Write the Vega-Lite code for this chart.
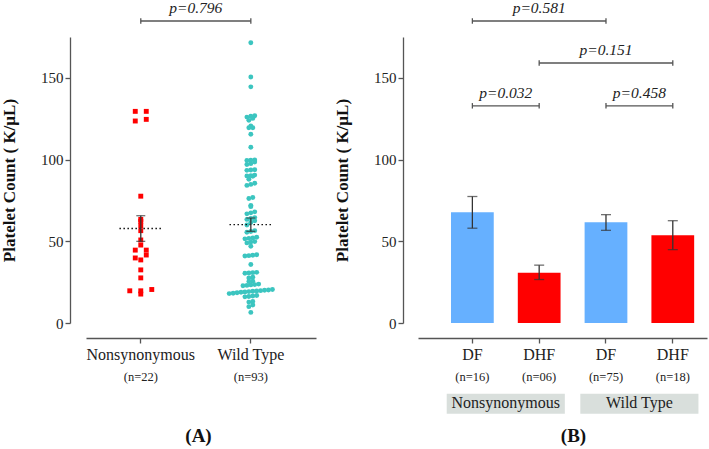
{
  "$schema": "https://vega.github.io/schema/vega-lite/v6.json",
  "padding": {"left": 0, "top": 1, "right": 1, "bottom": 2},
  "spacing": 17,
  "resolve": {"scale": {"color": "independent", "shape": "independent", "xOffset": "independent"}},
  "config": {
    "font": "Liberation Serif",
    "view": {"stroke": null},
    "axis": {"domainColor": "#555", "tickColor": "#555", "domainWidth": 1.3, "tickWidth": 1.3, "labelColor": "#222", "titleColor": "#111", "grid": false, "labelFont": "Liberation Serif", "titleFont": "Liberation Serif"}
  },
  "datasets": {
    "pts": [
      {"group": "Nonsynonymous", "value": 129.5}, {"group": "Nonsynonymous", "value": 129.5}, {"group": "Nonsynonymous", "value": 124.6}, {"group": "Nonsynonymous", "value": 123.6},
      {"group": "Nonsynonymous", "value": 77.6}, {"group": "Nonsynonymous", "value": 63.4}, {"group": "Nonsynonymous", "value": 62.2}, {"group": "Nonsynonymous", "value": 59.6},
      {"group": "Nonsynonymous", "value": 56.5}, {"group": "Nonsynonymous", "value": 50.8}, {"group": "Nonsynonymous", "value": 47.7}, {"group": "Nonsynonymous", "value": 44.6},
      {"group": "Nonsynonymous", "value": 44.6}, {"group": "Nonsynonymous", "value": 41.6}, {"group": "Nonsynonymous", "value": 39.8}, {"group": "Nonsynonymous", "value": 38.6},
      {"group": "Nonsynonymous", "value": 32.5}, {"group": "Nonsynonymous", "value": 27.6}, {"group": "Nonsynonymous", "value": 20.5}, {"group": "Nonsynonymous", "value": 19.7},
      {"group": "Nonsynonymous", "value": 19.7}, {"group": "Nonsynonymous", "value": 17.7},
      {"group": "Wild Type", "value": 171.5}, {"group": "Wild Type", "value": 150.5}, {"group": "Wild Type", "value": 144.5},
      {"group": "Wild Type", "value": 126.8}, {"group": "Wild Type", "value": 126.5}, {"group": "Wild Type", "value": 126}, {"group": "Wild Type", "value": 125.2}, {"group": "Wild Type", "value": 124},
      {"group": "Wild Type", "value": 120.5}, {"group": "Wild Type", "value": 119.5}, {"group": "Wild Type", "value": 119.5},
      {"group": "Wild Type", "value": 115.5}, {"group": "Wild Type", "value": 107.5},
      {"group": "Wild Type", "value": 99.8}, {"group": "Wild Type", "value": 99.6}, {"group": "Wild Type", "value": 99.4}, {"group": "Wild Type", "value": 98.5},
      {"group": "Wild Type", "value": 97.5}, {"group": "Wild Type", "value": 97},
      {"group": "Wild Type", "value": 93.8}, {"group": "Wild Type", "value": 93.6}, {"group": "Wild Type", "value": 93.4},
      {"group": "Wild Type", "value": 90.5}, {"group": "Wild Type", "value": 90.2}, {"group": "Wild Type", "value": 90}, {"group": "Wild Type", "value": 89.8}, {"group": "Wild Type", "value": 88},
      {"group": "Wild Type", "value": 85.5}, {"group": "Wild Type", "value": 84.8}, {"group": "Wild Type", "value": 84.2},
      {"group": "Wild Type", "value": 76.8}, {"group": "Wild Type", "value": 76.2}, {"group": "Wild Type", "value": 72}, {"group": "Wild Type", "value": 71.2},
      {"group": "Wild Type", "value": 68}, {"group": "Wild Type", "value": 67.4}, {"group": "Wild Type", "value": 66.8},
      {"group": "Wild Type", "value": 64.5}, {"group": "Wild Type", "value": 64}, {"group": "Wild Type", "value": 63.4},
      {"group": "Wild Type", "value": 62.5}, {"group": "Wild Type", "value": 61.5}, {"group": "Wild Type", "value": 60},
      {"group": "Wild Type", "value": 56.5}, {"group": "Wild Type", "value": 56}, {"group": "Wild Type", "value": 55.5},
      {"group": "Wild Type", "value": 52.5}, {"group": "Wild Type", "value": 52}, {"group": "Wild Type", "value": 51.8}, {"group": "Wild Type", "value": 51.5},
      {"group": "Wild Type", "value": 49.8}, {"group": "Wild Type", "value": 49.5}, {"group": "Wild Type", "value": 49}, {"group": "Wild Type", "value": 47},
      {"group": "Wild Type", "value": 41.8}, {"group": "Wild Type", "value": 41.5}, {"group": "Wild Type", "value": 41.2}, {"group": "Wild Type", "value": 41},
      {"group": "Wild Type", "value": 35.8},
      {"group": "Wild Type", "value": 31}, {"group": "Wild Type", "value": 30.8}, {"group": "Wild Type", "value": 30.6}, {"group": "Wild Type", "value": 30.4},
      {"group": "Wild Type", "value": 28}, {"group": "Wild Type", "value": 27.5}, {"group": "Wild Type", "value": 25.6}, {"group": "Wild Type", "value": 25.4},
      {"group": "Wild Type", "value": 23.8}, {"group": "Wild Type", "value": 23.5}, {"group": "Wild Type", "value": 23.3}, {"group": "Wild Type", "value": 23}, {"group": "Wild Type", "value": 22.8},
      {"group": "Wild Type", "value": 20.5}, {"group": "Wild Type", "value": 20.2}, {"group": "Wild Type", "value": 20}, {"group": "Wild Type", "value": 19.8},
      {"group": "Wild Type", "value": 19.6}, {"group": "Wild Type", "value": 19.4}, {"group": "Wild Type", "value": 19.2}, {"group": "Wild Type", "value": 19},
      {"group": "Wild Type", "value": 18.8}, {"group": "Wild Type", "value": 18.5}, {"group": "Wild Type", "value": 18.2}, {"group": "Wild Type", "value": 18},
      {"group": "Wild Type", "value": 16.8}, {"group": "Wild Type", "value": 16.5}, {"group": "Wild Type", "value": 16.2}, {"group": "Wild Type", "value": 16},
      {"group": "Wild Type", "value": 13.2}, {"group": "Wild Type", "value": 12.8}, {"group": "Wild Type", "value": 11}, {"group": "Wild Type", "value": 10},
      {"group": "Wild Type", "value": 6.5}
    ],
    "grp": [{"group": "Nonsynonymous", "n": "(n=22)"}, {"group": "Wild Type", "n": "(n=93)"}],
    "brL": [{"from": "Nonsynonymous", "to": "Wild Type", "y": 184.8, "p": "p=0.796"}],
    "summ": [
      {"key": "NS|DF", "cls": "DF", "mean": 67.7, "lo": 58.0, "hi": 77.4, "n": "(n=16)"},
      {"key": "NS|DHF", "cls": "DHF", "mean": 30.7, "lo": 26.6, "hi": 35.4, "n": "(n=06)"},
      {"key": "WT|DF", "cls": "DF", "mean": 61.6, "lo": 56.7, "hi": 66.3, "n": "(n=75)"},
      {"key": "WT|DHF", "cls": "DHF", "mean": 53.7, "lo": 44.9, "hi": 62.6, "n": "(n=18)"}
    ],
    "boxes": [
      {"from": "NS|DF", "to": "NS|DHF", "label": "Nonsynonymous"},
      {"from": "WT|DF", "to": "WT|DHF", "label": "Wild Type"}
    ],
    "brR": [
      {"from": "NS|DF", "to": "WT|DF", "mid": "NS|DHF", "y": 184.8, "p": "p=0.581", "span": 2},
      {"from": "NS|DHF", "to": "WT|DHF", "mid": "WT|DF", "y": 159.1, "p": "p=0.151", "span": 2},
      {"from": "NS|DF", "to": "NS|DHF", "mid": null, "y": 132.9, "p": "p=0.032", "span": 1},
      {"from": "WT|DF", "to": "WT|DHF", "mid": null, "y": 132.9, "p": "p=0.458", "span": 1}
    ]
  },
  "hconcat": [
    {
      "width": 230,
      "height": 286,
      "layer": [
        {
          "data": {"name": "pts"},
          "transform": [
            {"bin": {"step": 3}, "field": "value", "as": "vb"},
            {"window": [{"op": "row_number", "as": "rk"}], "groupby": ["group", "vb"], "sort": [{"field": "value", "order": "ascending"}]},
            {"joinaggregate": [{"op": "count", "as": "cnt"}], "groupby": ["group", "vb"]},
            {"calculate": "(datum.rk - (datum.cnt + 1) / 2) * (datum.group === 'Nonsynonymous' ? 2.8 : 1)", "as": "off"}
          ],
          "mark": {"type": "point", "filled": true, "opacity": 1, "size": 24},
          "encoding": {
            "x": {"field": "group", "type": "nominal", "sort": null, "title": "(A)",
              "scale": {"type": "band", "domain": ["Nonsynonymous", "Wild Type"], "paddingInner": 0.5, "paddingOuter": 0.295, "align": 0.42},
              "axis": {"offset": 15, "tickSize": 5, "labelPadding": 3, "labelFontSize": 16, "labelAngle": 0, "titleFontSize": 19, "titleFontWeight": "bold", "titlePadding": 64, "titleX": 112}},
            "xOffset": {"field": "off", "type": "quantitative", "scale": {"domain": [-7, 7], "range": [0, 55]}},
            "y": {"field": "value", "type": "quantitative", "title": "Platelet Count ( K/µL)",
              "scale": {"domain": [0, 175], "nice": false, "zero": true},
              "axis": {"values": [0, 50, 100, 150], "offset": 16, "tickSize": 5, "labelPadding": 2, "labelFontSize": 15, "titleFontSize": 17, "titleFontWeight": "bold", "titlePadding": 22}},
            "shape": {"field": "group", "type": "nominal", "scale": {"domain": ["Nonsynonymous", "Wild Type"], "range": ["square", "circle"]}, "legend": null},
            "color": {"field": "group", "type": "nominal", "scale": {"domain": ["Nonsynonymous", "Wild Type"], "range": ["#ff0000", "#3cc5c0"]}, "legend": null}
          }
        },
        {
          "data": {"name": "pts"},
          "mark": {"type": "rule", "color": "#111", "strokeWidth": 1.3, "strokeDash": [1.5, 2.5]},
          "encoding": {
            "x": {"field": "group", "type": "nominal", "bandPosition": 0.112, "title": "(A)"},
            "x2": {"field": "group", "bandPosition": 0.888},
            "y": {"aggregate": "mean", "field": "value", "type": "quantitative", "title": "Platelet Count ( K/µL)"}
          }
        },
        {
          "data": {"name": "pts"},
          "mark": {"type": "errorbar", "extent": "stderr", "color": "#333", "thickness": 1.3, "ticks": {"size": 9}},
          "encoding": {
            "x": {"field": "group", "type": "nominal", "title": "(A)"},
            "y": {"field": "value", "type": "quantitative", "title": "Platelet Count ( K/µL)"}
          }
        },
        {
          "data": {"name": "grp"},
          "mark": {"type": "text", "fontSize": 12.5, "baseline": "middle", "color": "#222"},
          "encoding": {
            "x": {"field": "group", "type": "nominal", "title": "(A)"},
            "y": {"datum": -33, "title": "Platelet Count ( K/µL)"},
            "text": {"field": "n"}
          }
        },
        {
          "data": {"name": "brL"},
          "mark": {"type": "rule", "color": "#555", "strokeWidth": 1.3},
          "encoding": {
            "x": {"field": "from", "type": "nominal", "bandPosition": 0.5, "title": "(A)"},
            "x2": {"field": "to", "bandPosition": 0.5},
            "y": {"field": "y", "type": "quantitative", "title": "Platelet Count ( K/µL)"}
          }
        },
        {
          "data": {"name": "brL"},
          "transform": [{"fold": ["from", "to"], "as": ["end", "cat"]}],
          "mark": {"type": "point", "shape": "M0,-1L0,1", "filled": false, "size": 30, "stroke": "#555", "strokeWidth": 1.3, "opacity": 1},
          "encoding": {
            "x": {"field": "cat", "type": "nominal", "title": "(A)"},
            "y": {"field": "y", "type": "quantitative", "title": "Platelet Count ( K/µL)"}
          }
        },
        {
          "data": {"name": "brL"},
          "mark": {"type": "text", "fontStyle": "italic", "fontSize": 15.5, "baseline": "alphabetic", "dy": -7.5, "color": "#222"},
          "encoding": {
            "x": {"field": "from", "type": "nominal", "title": "(A)"},
            "xOffset": {"datum": 14, "type": "quantitative"},
            "y": {"field": "y", "type": "quantitative", "title": "Platelet Count ( K/µL)"},
            "text": {"field": "p"}
          }
        }
      ]
    },
    {
      "width": 289,
      "height": 286,
      "layer": [
        {
          "data": {"name": "summ"},
          "mark": {"type": "bar"},
          "encoding": {
            "x": {"field": "key", "type": "nominal", "sort": null, "title": "(B)",
              "scale": {"type": "band", "domain": ["NS|DF", "NS|DHF", "WT|DF", "WT|DHF"], "paddingInner": 0.36, "paddingOuter": 0.343, "align": 0.72},
              "axis": {"labelExpr": "split(datum.label, '|')[1]", "offset": 15, "tickSize": 5, "labelPadding": 3, "labelFontSize": 16, "labelAngle": 0, "titleFontSize": 19, "titleFontWeight": "bold", "titlePadding": 64, "titleX": 155}},
            "y": {"field": "mean", "type": "quantitative", "title": "Platelet Count ( K/µL)",
              "scale": {"domain": [0, 175], "nice": false, "zero": true},
              "axis": {"values": [0, 50, 100, 150], "offset": 15, "tickSize": 5, "labelPadding": 2, "labelFontSize": 15, "titleFontSize": 17, "titleFontWeight": "bold", "titlePadding": 22}},
            "color": {"field": "cls", "type": "nominal", "scale": {"domain": ["DF", "DHF"], "range": ["#66b0ff", "#ff0000"]}, "legend": null}
          }
        },
        {
          "data": {"name": "summ"},
          "mark": {"type": "errorbar", "color": "#333", "thickness": 1.3, "ticks": {"size": 10}},
          "encoding": {
            "x": {"field": "key", "type": "nominal", "title": "(B)"},
            "y": {"field": "lo", "type": "quantitative", "title": "Platelet Count ( K/µL)"},
            "y2": {"field": "hi"}
          }
        },
        {
          "data": {"name": "summ"},
          "mark": {"type": "text", "fontSize": 12.5, "baseline": "middle", "color": "#222"},
          "encoding": {
            "x": {"field": "key", "type": "nominal", "title": "(B)"},
            "y": {"datum": -33, "title": "Platelet Count ( K/µL)"},
            "text": {"field": "n"}
          }
        },
        {
          "data": {"name": "boxes"},
          "mark": {"type": "rect", "color": "#d9dfdc"},
          "encoding": {
            "x": {"field": "from", "type": "nominal", "bandPosition": -0.1, "title": "(B)"},
            "x2": {"field": "to", "bandPosition": 1.1},
            "y": {"datum": -43.3, "title": "Platelet Count ( K/µL)"},
            "y2": {"datum": -55.5}
          }
        },
        {
          "data": {"name": "boxes"},
          "mark": {"type": "text", "fontSize": 16, "baseline": "middle", "color": "#222", "dx": 33.4},
          "encoding": {
            "x": {"field": "from", "type": "nominal", "title": "(B)"},
            "y": {"datum": -49, "title": "Platelet Count ( K/µL)"},
            "text": {"field": "label"}
          }
        },
        {
          "data": {"name": "brR"},
          "mark": {"type": "rule", "color": "#555", "strokeWidth": 1.3},
          "encoding": {
            "x": {"field": "from", "type": "nominal", "bandPosition": 0.5, "title": "(B)"},
            "x2": {"field": "to", "bandPosition": 0.5},
            "y": {"field": "y", "type": "quantitative", "title": "Platelet Count ( K/µL)"}
          }
        },
        {
          "data": {"name": "brR"},
          "transform": [{"fold": ["from", "to"], "as": ["end", "cat"]}],
          "mark": {"type": "point", "shape": "M0,-1L0,1", "filled": false, "size": 30, "stroke": "#555", "strokeWidth": 1.3, "opacity": 1},
          "encoding": {
            "x": {"field": "cat", "type": "nominal", "title": "(B)"},
            "y": {"field": "y", "type": "quantitative", "title": "Platelet Count ( K/µL)"}
          }
        },
        {
          "data": {"name": "brR"},
          "transform": [{"filter": "datum.span === 1"}],
          "mark": {"type": "text", "fontStyle": "italic", "fontSize": 15.5, "baseline": "alphabetic", "dy": -7.5, "dx": 33.4, "color": "#222"},
          "encoding": {
            "x": {"field": "from", "type": "nominal", "title": "(B)"},
            "y": {"field": "y", "type": "quantitative", "title": "Platelet Count ( K/µL)"},
            "text": {"field": "p"}
          }
        },
        {
          "data": {"name": "brR"},
          "transform": [{"filter": "datum.span === 2"}],
          "mark": {"type": "text", "fontStyle": "italic", "fontSize": 15.5, "baseline": "alphabetic", "dy": -7.5, "color": "#222"},
          "encoding": {
            "x": {"field": "mid", "type": "nominal", "title": "(B)"},
            "y": {"field": "y", "type": "quantitative", "title": "Platelet Count ( K/µL)"},
            "text": {"field": "p"}
          }
        }
      ]
    }
  ]
}
